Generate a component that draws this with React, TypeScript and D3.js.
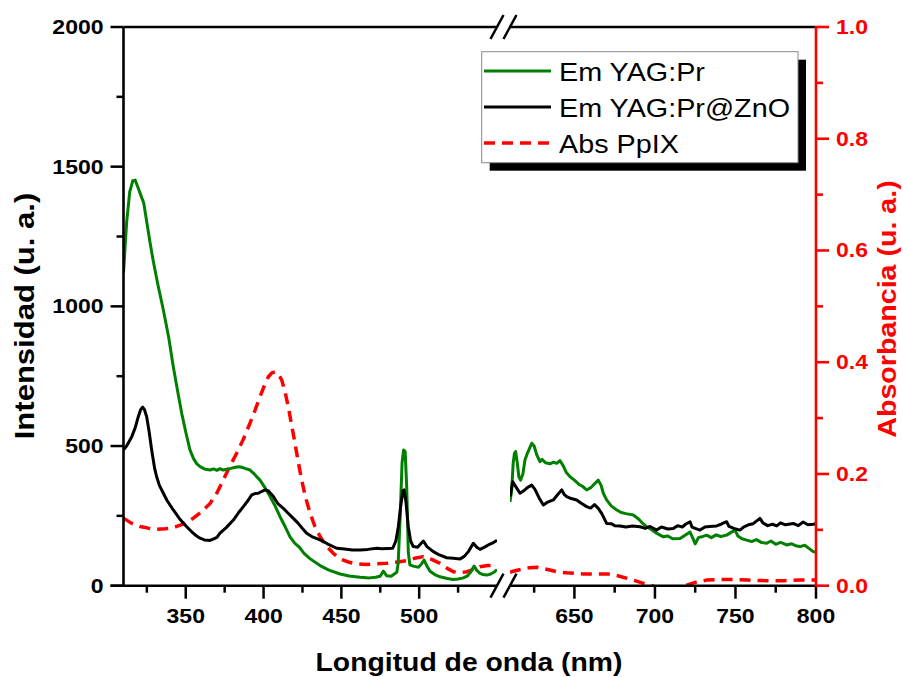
import React from "react";
import * as d3 from "d3";

// ---------- data ----------
// Emission YAG:Pr (left axis, u. a.) — left segment (310–550 nm)
const emYagLeft: [number, number][] = [
  [310, 1120], [312, 1300], [314, 1410], [316, 1450], [317.5, 1452], [319, 1430], [321, 1400], [323, 1370],
  [325, 1300], [327, 1230], [329, 1166], [332, 1080], [335.6, 987], [339, 890], [342, 784], [345, 690],
  [347.4, 617], [350, 550], [352.7, 486], [355, 455], [357, 437], [359.2, 426], [362, 418], [365.6, 414],
  [368, 418], [370, 413], [372, 419], [374, 414], [376.3, 417], [379, 420], [382, 424], [384, 426],
  [386, 424], [388, 420], [391.3, 414], [394, 400], [397.7, 378], [401, 350], [404.2, 319], [407, 290],
  [410.6, 247], [414, 210], [417, 175], [420, 152], [423.4, 135], [426, 116], [430, 96], [436.3, 72],
  [442, 56], [449.2, 42], [455, 35], [462, 30], [468, 28], [472, 30], [474.9, 34], [477, 52], [479, 36],
  [482, 34], [485.6, 48], [486.5, 80], [487.8, 250], [489, 440], [490, 486], [491, 480], [492, 350],
  [493, 120], [494, 75], [496.2, 70], [499.5, 66], [501.5, 78], [503.1, 92], [505, 70], [507, 52],
  [510, 40], [513.4, 32], [518, 26], [522, 22], [525, 24], [528.4, 28], [531, 35], [532.7, 46],
  [535.3, 70], [537, 55], [539.1, 44], [541, 40], [543.4, 38], [546, 42], [548, 48], [550, 58],
];
// Emission YAG:Pr — right segment (610–800 nm)
const emYagRight: [number, number][] = [
  [610, 300], [611, 340], [612, 440], [612.8, 474], [613.5, 480], [614.5, 440], [615.5, 390], [616.6, 378],
  [618, 400], [619.3, 450], [620.5, 470], [622, 490], [623.5, 510], [625, 500], [626.5, 470], [628.6, 444],
  [630, 452], [632, 440], [634.8, 436], [637, 442], [639, 438], [641, 448], [643, 430], [645, 405],
  [647.3, 390], [650, 378], [653, 362], [655, 356], [657.6, 343], [660, 350], [662, 362], [664.8, 378],
  [666.5, 360], [668, 330], [670, 307], [673, 285], [676.3, 271], [679, 262], [682, 258], [686.6, 253],
  [690, 238], [692, 225], [694.9, 211], [698, 200], [701, 188], [705.2, 175], [708, 178], [711, 168],
  [715.6, 169], [718, 178], [721.8, 192], [723.5, 170], [725, 150], [727, 172], [729, 175], [732.1, 181],
  [735, 172], [738, 182], [741, 176], [744.5, 181], [747, 190], [749.7, 199], [751.5, 178], [754, 168],
  [757, 163], [760, 158], [763, 165], [766, 155], [769.4, 152], [772, 160], [775, 148], [778, 155],
  [781.8, 146], [785, 150], [788, 142], [790.1, 140], [793, 145], [796, 132], [798.3, 122], [800, 120],
];
// Emission YAG:Pr@ZnO — left segment
const emZnoLeft: [number, number][] = [
  [310, 486], [312, 500], [315.3, 533], [317.5, 565], [319.5, 605], [321, 630], [322.3, 639], [323.5, 630],
  [324.9, 605], [326.5, 550], [328.1, 486], [330, 420], [331.3, 390], [333, 360], [335.6, 331], [338, 305],
  [342, 271], [346, 240], [350.6, 211], [354, 192], [357, 178], [359.2, 170], [362, 164], [365.6, 162],
  [368, 168], [370, 173], [372, 188], [376, 208], [380.6, 235], [384, 262], [387, 283], [390, 305],
  [392.4, 325], [394.5, 330], [396.6, 331], [399, 338], [401, 343], [403, 340], [406.3, 319], [409, 295],
  [412.7, 277], [415, 264], [419.1, 241], [422, 225], [425, 205], [427.7, 188], [431, 176], [436.3, 164],
  [441, 150], [447, 134], [452, 131], [457, 128], [462, 128], [467, 130], [472.7, 134], [476, 132],
  [480, 133], [483, 134], [485, 160], [486.6, 211], [488, 280], [489.5, 340], [490.3, 343], [491.5, 300],
  [493, 211], [494.5, 160], [496.2, 140], [499, 138], [501, 150], [502.7, 160], [505, 140], [509.1, 122],
  [513, 110], [517.7, 100], [522, 98], [526.3, 96], [529, 105], [531.6, 122], [534.8, 152], [537, 138],
  [539.1, 130], [542, 138], [544.4, 146], [547, 152], [550, 163],
];
// Emission YAG:Pr@ZnO — right segment
const emZnoRight: [number, number][] = [
  [610, 319], [611, 350], [611.7, 372], [613, 360], [616.2, 331], [619, 342], [621, 352], [623.5, 360],
  [625.5, 345], [628, 315], [630.7, 289], [633, 298], [636.9, 307], [639, 322], [642.1, 343], [643.5, 328],
  [645.2, 319], [648, 312], [651.4, 307], [654, 296], [657.6, 283], [660, 278], [662.5, 290], [664.8, 277],
  [667, 258], [670, 223], [673, 222], [675, 215], [678.3, 214], [682, 210], [686, 214], [690.7, 211],
  [694, 205], [697, 212], [701.1, 199], [704, 210], [708, 203], [711.4, 205], [714, 215], [717, 210],
  [719, 220], [721.8, 229], [723, 210], [725, 205], [728, 199], [731, 210], [734, 212], [738.3, 214],
  [741, 220], [744.5, 229], [746, 212], [749, 205], [752.8, 199], [755, 210], [758, 218], [761, 222],
  [765.2, 241], [767, 225], [770, 215], [773, 220], [775.6, 214], [778, 225], [781, 218], [785.9, 223],
  [789, 215], [792, 228], [795, 218], [798.3, 220], [800, 222],
];
// Absorbance PpIX (right axis) — left segment
const absLeft: [number, number][] = [
  [310, 0.121], [315, 0.112], [320.6, 0.106], [326, 0.103], [331.3, 0.101], [337, 0.102], [344.2, 0.106],
  [350, 0.112], [354.9, 0.121], [360, 0.132], [365.6, 0.147], [370, 0.166], [374.1, 0.189], [378, 0.212],
  [382.7, 0.237], [387, 0.262], [391.3, 0.291], [394.5, 0.314], [397.7, 0.338], [400.5, 0.358], [403.1, 0.374],
  [405.3, 0.381], [407.4, 0.383], [409.5, 0.379], [411.7, 0.368], [413.8, 0.347], [415.9, 0.32], [418, 0.288],
  [420.2, 0.255], [422.3, 0.221], [424.5, 0.189], [427, 0.158], [429.9, 0.13], [433, 0.106], [436.3, 0.088],
  [440, 0.072], [444.8, 0.058], [449.2, 0.048], [455, 0.042], [460, 0.039], [466.3, 0.038], [472, 0.039],
  [479.2, 0.04], [485, 0.042], [492, 0.045], [497, 0.049], [502.7, 0.052], [508, 0.047], [513.4, 0.04],
  [518, 0.031], [522, 0.025], [526, 0.023], [530.6, 0.025], [535, 0.029], [539.1, 0.034], [544, 0.036],
  [550, 0.037],
];
// Absorbance PpIX — right segment
const absRight: [number, number][] = [
  [610, 0.024], [612, 0.026], [618, 0.03], [622, 0.032], [626.6, 0.033], [632, 0.03], [639, 0.025],
  [645, 0.023], [655.5, 0.021], [665, 0.021], [672.1, 0.021], [678, 0.017], [686.6, 0.01], [692, 0.005],
  [697, 0.001], [702, -0.004], [710, -0.006], [716, -0.003], [719.7, 0.001], [725, 0.006], [732.1, 0.01],
  [740, 0.011], [748.7, 0.011], [758, 0.01], [769.4, 0.009], [780, 0.009], [790, 0.01], [800, 0.01],
];

const xDomainLeft: [number, number] = [310, 550];
const xDomainRight: [number, number] = [610, 800];
const xMajorLeft = [350, 400, 450, 500];
const xMinorLeft = [325, 375, 425, 475, 525];
const xMajorRight = [650, 700, 750, 800];
const xMinorRight = [625, 675, 725, 775];
const yLeftMajor = [0, 500, 1000, 1500, 2000];
const yLeftMinor = [250, 750, 1250, 1750];
const yRightMajor = [0, 0.2, 0.4, 0.6, 0.8, 1.0];
const yRightMinor = [0.1, 0.3, 0.5, 0.7, 0.9];

const legendItems = [
  { label: "Em YAG:Pr", color: "#008000", dash: "" },
  { label: "Em YAG:Pr@ZnO", color: "#000000", dash: "" },
  { label: "Abs PpIX", color: "#ff0000", dash: "11,7" },
];

const xTitle = "Longitud de onda (nm)";
const yLeftTitle = "Intensidad (u. a.)";
const yRightTitle = "Absorbancia (u. a.)";

// ---------- layout ----------
const W = 903, H = 677;
const LEFT = 123.5, BREAK_L = 497, BREAK_R = 510, RIGHT = 816;
const TOP = 27, BOTTOM = 585.7;
const FONT = "'Liberation Sans', Arial, Helvetica, sans-serif";
const RED = "#ff0000";
const GREEN = "#008000";

export default function App() {
  const xL = d3.scaleLinear().domain(xDomainLeft).range([LEFT, BREAK_L]);
  const xR = d3.scaleLinear().domain(xDomainRight).range([BREAK_R, RIGHT]);
  const yL = d3.scaleLinear().domain([0, 2000]).range([BOTTOM, TOP]);
  const yR = d3.scaleLinear().domain([0, 1]).range([BOTTOM, TOP]);

  const lineL = (y: d3.ScaleLinear<number, number>) =>
    d3.line<[number, number]>().x((d) => xL(d[0])).y((d) => y(d[1]));
  const lineR = (y: d3.ScaleLinear<number, number>) =>
    d3.line<[number, number]>().x((d) => xR(d[0])).y((d) => y(d[1]));

  const tickFont = { fontFamily: FONT, fontWeight: 700, fontSize: 20 } as const;
  const TS = 1.15;

  const breakMark = (cx: number, cy: number, key: string) => (
    <line key={key} x1={cx - 6.5} y1={cy + 12} x2={cx + 6.5} y2={cy - 12} stroke="#000" strokeWidth={2.5} />
  );

  return (
    <svg width={W} height={H} style={{ position: "absolute", left: 0, top: 0, background: "#fff" }}>
      <defs>
        <clipPath id="clipL">
          <rect x={LEFT} y={TOP} width={BREAK_L - LEFT} height={BOTTOM - TOP} />
        </clipPath>
        <clipPath id="clipR">
          <rect x={BREAK_R} y={TOP} width={RIGHT - BREAK_R} height={BOTTOM - TOP} />
        </clipPath>
      </defs>
      <rect x={0} y={0} width={W} height={H} fill="#fff" />

      {/* curves */}
      <g clipPath="url(#clipL)" fill="none" strokeLinejoin="round">
        <path d={lineL(yR)(absLeft) || ""} stroke={RED} strokeWidth={3.5} strokeDasharray="11,7" />
        <path d={lineL(yL)(emYagLeft) || ""} stroke={GREEN} strokeWidth={3} />
        <path d={lineL(yL)(emZnoLeft) || ""} stroke="#000" strokeWidth={3} />
      </g>
      <g clipPath="url(#clipR)" fill="none" strokeLinejoin="round">
        <path d={lineR(yR)(absRight) || ""} stroke={RED} strokeWidth={3.5} strokeDasharray="11,7" />
        <path d={lineR(yL)(emYagRight) || ""} stroke={GREEN} strokeWidth={3} />
        <path d={lineR(yL)(emZnoRight) || ""} stroke="#000" strokeWidth={3} />
      </g>

      {/* top & bottom axes with break */}
      <g stroke="#000" strokeWidth={2.6}>
        <line x1={LEFT} y1={TOP} x2={BREAK_L} y2={TOP} />
        <line x1={BREAK_R} y1={TOP} x2={RIGHT} y2={TOP} />
        <line x1={LEFT - 13} y1={BOTTOM} x2={BREAK_L} y2={BOTTOM} />
        <line x1={BREAK_R} y1={BOTTOM} x2={RIGHT} y2={BOTTOM} />
        <line x1={LEFT} y1={TOP} x2={LEFT} y2={BOTTOM} />
      </g>
      {breakMark(BREAK_L, TOP, "bt1")}
      {breakMark(BREAK_R, TOP, "bt2")}
      {breakMark(BREAK_L, BOTTOM, "bb1")}
      {breakMark(BREAK_R, BOTTOM, "bb2")}

      {/* ticks */}
      <g stroke="#000" strokeWidth={2.5}>
        {xMajorLeft.map((v) => (
          <line key={"xl" + v} x1={xL(v)} x2={xL(v)} y1={BOTTOM} y2={BOTTOM + 13} />
        ))}
        {xMinorLeft.map((v) => (
          <line key={"xlm" + v} x1={xL(v)} x2={xL(v)} y1={BOTTOM} y2={BOTTOM + 7} />
        ))}
        {xMajorRight.map((v) => (
          <line key={"xr" + v} x1={xR(v)} x2={xR(v)} y1={BOTTOM} y2={BOTTOM + 13} />
        ))}
        {xMinorRight.map((v) => (
          <line key={"xrm" + v} x1={xR(v)} x2={xR(v)} y1={BOTTOM} y2={BOTTOM + 7} />
        ))}
        {yLeftMajor.map((v) => (
          <line key={"yl" + v} x1={LEFT - 13} x2={LEFT} y1={yL(v)} y2={yL(v)} />
        ))}
        {yLeftMinor.map((v) => (
          <line key={"ylm" + v} x1={LEFT - 7} x2={LEFT} y1={yL(v)} y2={yL(v)} />
        ))}
      </g>

      {/* bottom tick labels */}
      <g {...tickFont} fill="#000" textAnchor="middle">
        {xMajorLeft.map((v) => (
          <text key={"txl" + v} transform={`translate(${xL(v)},623) scale(${TS},1)`}>{v}</text>
        ))}
        {xMajorRight.map((v) => (
          <text key={"txr" + v} transform={`translate(${xR(v)},623) scale(${TS},1)`}>{v}</text>
        ))}
      </g>
      {/* left tick labels */}
      <g {...tickFont} fill="#000" textAnchor="end">
        {yLeftMajor.map((v) => (
          <text key={"tyl" + v} transform={`translate(103.5,${yL(v) + 7}) scale(${TS},1)`}>{v}</text>
        ))}
      </g>

      {/* right axis (red) */}
      <g stroke={RED} strokeWidth={2.6}>
        <line x1={RIGHT} y1={TOP - 1} x2={RIGHT} y2={BOTTOM + 1} />
        {yRightMajor.map((v) => (
          <line key={"yr" + v} x1={RIGHT} x2={RIGHT + 13} y1={yR(v)} y2={yR(v)} />
        ))}
        {yRightMinor.map((v) => (
          <line key={"yrm" + v} x1={RIGHT} x2={RIGHT + 7} y1={yR(v)} y2={yR(v)} />
        ))}
      </g>
      <g {...tickFont} fill={RED} textAnchor="start">
        {yRightMajor.map((v) => (
          <text key={"tyr" + v} transform={`translate(836,${yR(v) + 7}) scale(${TS},1)`}>{v.toFixed(1)}</text>
        ))}
      </g>

      {/* axis titles */}
      <text
        transform={`translate(469,671) scale(1.09,1)`}
        textAnchor="middle"
        fontFamily={FONT}
        fontWeight={700}
        fontSize={26}
        fill="#000"
      >
        {xTitle}
      </text>
      <text
        transform={`translate(33.5,316) rotate(-90) scale(1.15,1)`}
        textAnchor="middle"
        fontFamily={FONT}
        fontWeight={700}
        fontSize={27}
        fill="#000"
      >
        {yLeftTitle}
      </text>
      <text
        transform={`translate(896,309) rotate(-90) scale(1.1,1)`}
        textAnchor="middle"
        fontFamily={FONT}
        fontWeight={700}
        fontSize={26}
        fill={RED}
      >
        {yRightTitle}
      </text>

      {/* legend */}
      <g>
        <rect x={489.7} y={59.7} width={316.3} height={111} fill="#000" />
        <rect x={481.7} y={51.7} width={316.3} height={111} fill="#fff" stroke="#888" strokeWidth={1} />
        {legendItems.map((it, i) => (
          <g key={it.label}>
            <line
              x1={484}
              x2={551}
              y1={71 + i * 36}
              y2={71 + i * 36}
              stroke={it.color}
              strokeWidth={it.dash ? 3.5 : 3}
              strokeDasharray={it.dash || undefined}
            />
            <text
              transform={`translate(559,${81 + i * 36}) scale(1.15,1)`}
              fontFamily={FONT}
              fontSize={25}
              fill="#000"
            >
              {it.label}
            </text>
          </g>
        ))}
      </g>
    </svg>
  );
}
